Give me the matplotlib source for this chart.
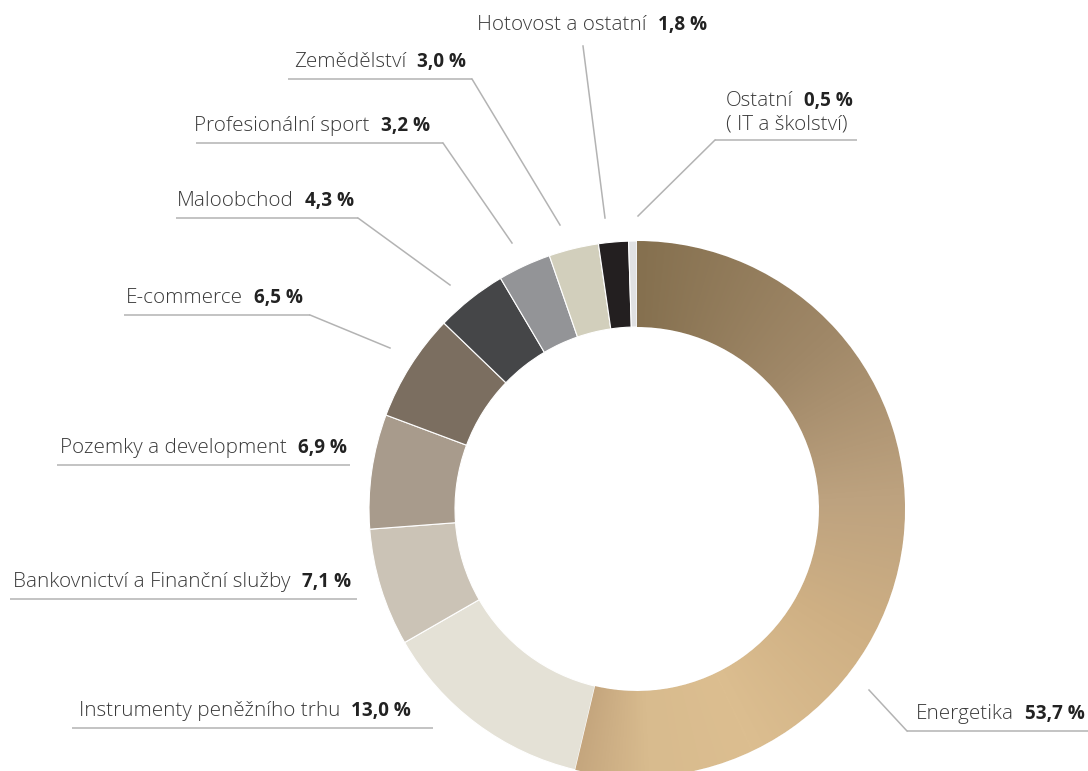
import numpy as np
import matplotlib
matplotlib.use("Agg")
import matplotlib.pyplot as plt
from matplotlib.colors import LinearSegmentedColormap

W, H = 1088, 771

# ---- data ----
categories = ["Energetika", "Instrumenty peněžního trhu", "Bankovnictví a Finanční služby",
              "Pozemky a development", "E-commerce", "Maloobchod", "Profesionální sport",
              "Zemědělství", "Hotovost a ostatní", "Ostatní"]
values = [53.7, 13.0, 7.1, 6.9, 6.5, 4.3, 3.2, 3.0, 1.8, 0.5]
value_labels = ["53,7 %", "13,0 %", "7,1 %", "6,9 %", "6,5 %", "4,3 %", "3,2 %", "3,0 %", "1,8 %", "0,5 %"]
colors = ["#a88e6a", "#e4e1d6", "#cbc3b6", "#a89b8c", "#7b6e60", "#454648",
          "#939497", "#d2cfbc", "#231f20", "#e0e1e3"]

# ---- layout (pixel coordinates, y downward) ----
cx, cy = 637, 509
R_out, ring = 268, 86

label_specs = {
    "Energetika": dict(xr=1085, uy=731, ux=(907, 1088), lead=[(869, 690), (907, 731)]),
    "Instrumenty peněžního trhu": dict(xr=411, uy=728, ux=(72, 433), lead=None),
    "Bankovnictví a Finanční služby": dict(xr=351, uy=599, ux=(10, 357), lead=None),
    "Pozemky a development": dict(xr=347, uy=465, ux=(57, 350), lead=None),
    "E-commerce": dict(xr=303, uy=315, ux=(124, 310), lead=[(310, 315), (390, 348)]),
    "Maloobchod": dict(xr=354, uy=218, ux=(176, 358), lead=[(358, 218), (450, 285)]),
    "Profesionální sport": dict(xr=430, uy=143, ux=(196, 443), lead=[(443, 143), (512, 243)]),
    "Zemědělství": dict(xr=466, uy=79, ux=(288, 472), lead=[(472, 79), (560, 225)]),
    "Hotovost a ostatní": dict(xr=707, uy=41, ux=None, lead=[(583, 46), (605, 218)]),
    "Ostatní": dict(xr=853, uy=140, ux=(715, 857), lead=[(715, 140), (638, 216)]),
}

def Y(py):
    return H - py

fig = plt.figure(figsize=(W / 100, H / 100), dpi=100)
ax = fig.add_axes([0, 0, 1, 1])

wedges, _ = ax.pie(values, colors=colors, radius=R_out, center=(cx, Y(cy)),
                   startangle=90, counterclock=False,
                   wedgeprops=dict(width=ring, edgecolor="white", linewidth=0.8))

# gradient fill for the Energetika wedge
grad_stops = [(0.0, "#85704f"), (0.25, "#a08868"), (0.45, "#bda27f"), (0.62, "#cfb084"),
              (0.8, "#dcbe90"), (0.92, "#d8bb8e"), (1.0, "#c5a67e")]
cmap = LinearSegmentedColormap.from_list("en", grad_stops)
xs = np.arange(cx - R_out, cx + R_out + 1)
ys = np.arange(cy - R_out, cy + R_out + 1)
XX, YY = np.meshgrid(xs, ys)
ang = np.degrees(np.arctan2(XX - cx, -(YY - cy))) % 360
t = np.clip(ang / (values[0] / 100 * 360), 0, 1)
img = cmap(t)
im = ax.imshow(img, extent=(cx - R_out, cx + R_out, Y(cy + R_out), Y(cy - R_out)),
               origin="upper", zorder=wedges[0].get_zorder() + 0.1, interpolation="bilinear")
im.set_clip_path(wedges[0])

ax.set_xlim(0, W)
ax.set_ylim(0, H)
ax.set_aspect("auto")
ax.axis("off")

line_col = "#b3b3b3"
txt_col = "#3a3a3a"
bold_col = "#222222"
fs_n = 14.9
fs_b = 13.6
fam = ["Open Sans", "DejaVu Sans"]
w_n = 300

fig.canvas.draw()
renderer = fig.canvas.get_renderer()
inv = ax.transData.inverted()

def label(name, vlabel, spec):
    xr, uy = spec["xr"], spec["uy"]
    base = uy - 12
    if name == "Hotovost a ostatní":
        base = 30
    if name == "Ostatní":
        base = 106
    b = ax.text(xr, Y(base), vlabel, ha="right", va="baseline", fontsize=fs_b,
                fontweight="bold", color=bold_col, family=fam)
    bb = b.get_window_extent(renderer=renderer)
    x0 = inv.transform((bb.x0, bb.y0))[0]
    ax.text(x0 - 11, Y(base), name, ha="right", va="baseline", fontsize=fs_n,
            fontweight=w_n, color=txt_col, family=fam)
    if name == "Ostatní":
        ax.text(847, Y(base + 24), "( IT a školství)", ha="right", va="baseline", fontsize=fs_n,
                fontweight=w_n, color=txt_col, family=fam)
    if spec["ux"] is not None:
        ax.plot(spec["ux"], [Y(uy), Y(uy)], color=line_col, lw=1.1, solid_capstyle="butt")
    if spec["lead"] is not None:
        px = [p[0] for p in spec["lead"]]
        py = [Y(p[1]) for p in spec["lead"]]
        ax.plot(px, py, color=line_col, lw=1.1)

for name, vl in zip(categories, value_labels):
    label(name, vl, label_specs[name])

fig.savefig("out.png", dpi=100, facecolor="white")
